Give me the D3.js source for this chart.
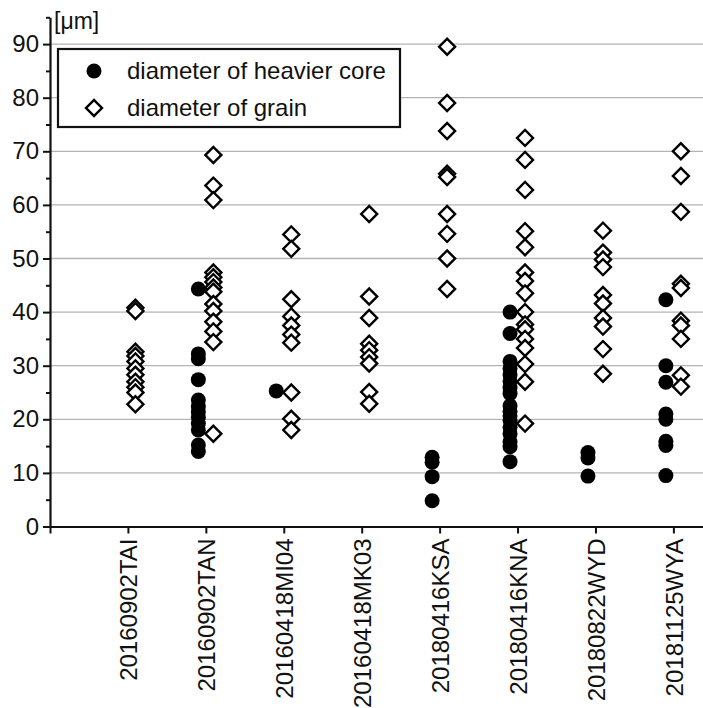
<!DOCTYPE html>
<html>
<head>
<meta charset="utf-8">
<script src="https://cdn.jsdelivr.net/npm/d3@7"></script>
<style>
  body { margin: 0; background: #fff; }
  text { font-family: "Liberation Sans", Arial, sans-serif; fill: #111; }
</style>
</head>
<body>
<div id="chart"></div>
<script>
// sample names (x categories)
var samples = ["20160902TAI", "20160902TAN", "20160418MI04", "20160418MK03",
               "20180416KSA", "20180416KNA", "20180822WYD", "20181125WYA"];

// diameter of heavier core [um], one list per sample
var coreTAI  = [];
var coreTAN  = [44.3, 32.2, 31.3, 27.4, 23.6, 22.4, 21.4, 20.4, 19.2, 18.0, 15.2, 14.0];
var coreMI04 = [25.3];
var coreMK03 = [];
var coreKSA  = [12.9, 12.0, 9.3, 4.8];
var coreKNA  = [40.0, 36.0, 30.8, 29.5, 28.3, 27.1, 25.9, 24.8, 22.5, 21.5, 20.6, 19.8, 18.5, 17.3, 15.8, 14.9, 12.1];
var coreWYD  = [13.8, 12.8, 9.4];
var coreWYA  = [42.3, 30.0, 26.9, 21.0, 20.0, 15.9, 15.1, 9.5];

// diameter of grain [um]
var grainTAI  = [40.8, 40.2, 32.6, 31.8, 30.8, 29.5, 28.3, 27.0, 26.0, 25.0, 22.8];
var grainTAN  = [69.3, 63.6, 60.9, 47.4, 46.5, 45.6, 44.6, 43.8, 41.5, 40.2, 38.2, 36.4, 34.4, 17.3];
var grainMI04 = [54.5, 51.8, 42.4, 39.2, 37.5, 35.8, 34.3, 25.0, 20.1, 18.0];
var grainMK03 = [58.3, 42.9, 38.9, 34.1, 32.9, 31.6, 30.4, 25.1, 22.9];
var grainKSA  = [89.5, 79.0, 73.8, 65.8, 65.2, 58.3, 54.6, 50.0, 44.3];
var grainKNA  = [72.5, 68.4, 62.8, 55.1, 52.1, 47.4, 45.8, 43.5, 40.0, 37.7, 36.8, 35.0, 33.3, 30.3, 27.0, 19.2];
var grainWYD  = [55.2, 51.1, 49.8, 48.4, 43.2, 41.6, 38.9, 37.3, 33.1, 28.5];
var grainWYA  = [70.0, 65.4, 58.7, 45.3, 44.5, 38.4, 37.5, 35.0, 28.2, 26.1];

var yTicks = [0, 10, 20, 30, 40, 50, 60, 70, 80, 90];

var coreData  = [coreTAI, coreTAN, coreMI04, coreMK03, coreKSA, coreKNA, coreWYD, coreWYA];
var grainData = [grainTAI, grainTAN, grainMI04, grainMK03, grainKSA, grainKNA, grainWYD, grainWYA];

var svgWidth = 703;
var svgHeight = 708;

var svg = d3.select("#chart")
  .append("svg")
  .attr("width", svgWidth)
  .attr("height", svgHeight);

// scales
var xScale = d3.scaleLinear()
  .domain([0, 8.38])
  .range([50, 703]);

var yScale = d3.scaleLinear()
  .domain([0, 95])
  .range([526.5, 17.3]);

// flatten into points
var corePoints = [];
coreData.forEach(function(list, i) {
  list.forEach(function(v) { corePoints.push({ idx: i + 1, value: v }); });
});
var grainPoints = [];
grainData.forEach(function(list, i) {
  list.forEach(function(v) { grainPoints.push({ idx: i + 1, value: v }); });
});

// gridlines
svg.append("g")
  .selectAll("line")
  .data(yTicks.filter(d => d > 0))
  .enter()
  .append("line")
  .attr("x1", xScale(0))
  .attr("x2", svgWidth)
  .attr("y1", d => yScale(d))
  .attr("y2", d => yScale(d))
  .attr("stroke", "#b4b4b4")
  .attr("stroke-width", 1.3);

// x axis
var xAxis = d3.axisBottom(xScale)
  .tickValues(d3.range(0, 9))
  .tickFormat(d => d === 0 ? "" : samples[d - 1])
  .tickSize(7)
  .tickSizeOuter(0);

var xAxisGroup = svg.append("g")
  .attr("transform", `translate(0, ${yScale(0)})`)
  .call(xAxis);

xAxisGroup.select(".domain").attr("stroke", "#111").attr("stroke-width", 2.2);
xAxisGroup.selectAll(".tick line").attr("stroke", "#111").attr("stroke-width", 2);
xAxisGroup.selectAll(".tick text")
  .attr("transform", "rotate(-90)")
  .attr("text-anchor", "end")
  .attr("x", -12)
  .attr("y", 0)
  .attr("dy", "0.36em")
  .attr("font-size", "24px")
  .style("font-family", "'Liberation Sans', Arial, sans-serif")
  .attr("fill", "#111");

// y axis, major ticks
var yAxis = d3.axisLeft(yScale)
  .tickValues(yTicks)
  .tickSize(7)
  .tickSizeOuter(0)
  .tickPadding(4);

var yAxisGroup = svg.append("g")
  .attr("transform", `translate(${xScale(0)}, 0)`)
  .call(yAxis);

yAxisGroup.select(".domain").attr("stroke", "#111").attr("stroke-width", 2.2);
yAxisGroup.selectAll(".tick line").attr("stroke", "#111").attr("stroke-width", 2);
yAxisGroup.selectAll(".tick text")
  .attr("font-size", "24px")
  .style("font-family", "'Liberation Sans', Arial, sans-serif")
  .attr("fill", "#111");

// y axis, minor ticks
var yMinor = d3.axisLeft(yScale)
  .tickValues(d3.range(5, 96, 10))
  .tickSize(4)
  .tickFormat("");

var yMinorGroup = svg.append("g")
  .attr("transform", `translate(${xScale(0)}, 0)`)
  .call(yMinor);
yMinorGroup.select(".domain").remove();
yMinorGroup.selectAll(".tick line").attr("stroke", "#111").attr("stroke-width", 2);

// unit label
svg.append("text")
  .attr("x", 54)
  .attr("y", 29)
  .attr("font-size", "23px")
  .text("[μm]");

// points: cores first, grains drawn on top
svg.append("g")
  .selectAll("circle")
  .data(corePoints)
  .enter()
  .append("circle")
  .attr("cx", d => xScale(d.idx) - 7.5)
  .attr("cy", d => yScale(d.value))
  .attr("r", 7.5)
  .attr("fill", "#000");

var diamond = d3.symbol().type(d3.symbolSquare).size(128);

svg.append("g")
  .selectAll("path")
  .data(grainPoints)
  .enter()
  .append("path")
  .attr("d", diamond)
  .attr("transform", d => `translate(${xScale(d.idx) + 7.5}, ${yScale(d.value)}) rotate(45)`)
  .attr("fill", "#fff")
  .attr("stroke", "#000")
  .attr("stroke-width", 2.4);

// legend
var legend = svg.append("g");

legend.append("rect")
  .attr("x", 58)
  .attr("y", 49)
  .attr("width", 342)
  .attr("height", 78)
  .attr("fill", "#fff")
  .attr("stroke", "#111")
  .attr("stroke-width", 2.2);

legend.append("circle")
  .attr("cx", 94)
  .attr("cy", 71)
  .attr("r", 7.5)
  .attr("fill", "#000");

legend.append("path")
  .attr("d", diamond)
  .attr("transform", "translate(94, 108) rotate(45)")
  .attr("fill", "#fff")
  .attr("stroke", "#000")
  .attr("stroke-width", 2.4);

legend.append("text")
  .attr("x", 127)
  .attr("y", 79)
  .attr("font-size", "24px")
  .text("diameter of heavier core");

legend.append("text")
  .attr("x", 127)
  .attr("y", 116)
  .attr("font-size", "24px")
  .text("diameter of grain");
</script>
</body>
</html>
